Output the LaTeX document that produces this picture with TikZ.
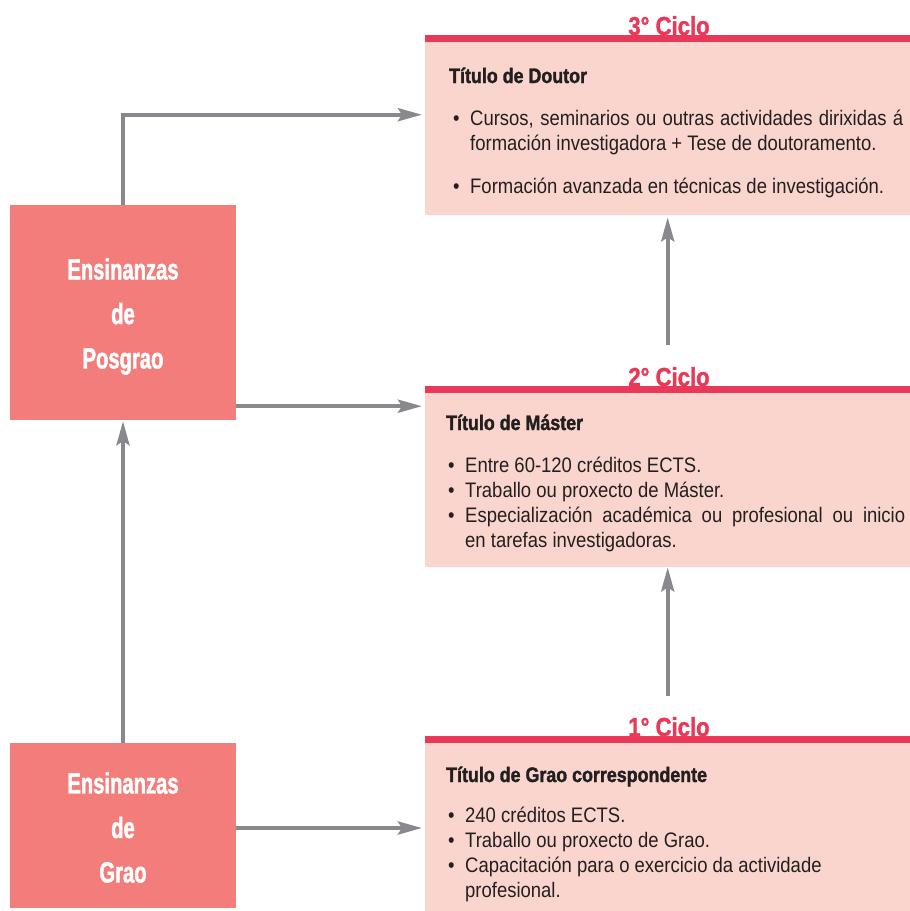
\documentclass[tikz,border=0pt]{standalone}
\usepackage{fontspec}
\usetikzlibrary{arrows.meta,calc}
\setmainfont{Liberation Sans}
\newfontfamily\bodyfont[FakeStretch=0.88]{Liberation Sans}
\newfontfamily\headfont[FakeStretch=0.85,FakeBold=1.5]{Liberation Sans}
\newfontfamily\ciclofont[FakeStretch=0.85,FakeBold=1.5]{Liberation Sans}
\newfontfamily\bigfont[FakeStretch=0.69,FakeBold=1.5]{Liberation Sans}
\definecolor{pinkbox}{HTML}{FAD5CE}
\definecolor{redbar}{HTML}{E83A58}
\definecolor{salmon}{HTML}{F27D7A}
\definecolor{arrowgray}{HTML}{88898D}
\definecolor{txt}{HTML}{231F20}
\newcommand\bitem[1]{\par\noindent\hangindent=17pt\hangafter=1\makebox[17pt][l]{\textbullet}#1}
\newcommand\bodystyle{\bodyfont\fontsize{21}{25}\selectfont\hyphenpenalty=10000\tolerance=9999\parskip=0pt\parindent=0pt}
\tikzset{
  cyclebox/.style={fill=pinkbox, draw=none, inner sep=0pt, anchor=north west},
  redband/.style={fill=redbar, draw=none, inner sep=0pt, minimum height=7pt, minimum width=485pt, anchor=south west},
  ciclo/.style={text=redbar, font=\ciclofont\bfseries\fontsize{26}{30}\selectfont, inner sep=0pt, anchor=base},
  ctitle/.style={text=txt, font=\headfont\bfseries\fontsize{21}{25}\selectfont, inner sep=0pt, anchor=base west},
  cbody/.style={inner sep=0pt, anchor=base west, text=txt},
  leftbox/.style={fill=salmon, draw=none, inner sep=0pt, minimum width=226pt},
  bigtext/.style={text=white, align=center, inner sep=0pt,
    font=\bigfont\bfseries\fontsize{29.3}{44.5}\selectfont},
  arr/.style={draw=arrowgray, line width=4pt, -{Stealth[length=24pt,width=13pt,inset=4pt]}},
}
\begin{document}
\begin{tikzpicture}[x=1pt,y=-1pt]
\useasboundingbox (0,0) rectangle (910,911);
% right boxes
\node[cyclebox, minimum width=485pt, minimum height=173pt] (c3) at (425,42) {};
\node[redband] (bar3) at (c3.north west) {};
\node[ciclo] (l3) at (669,35) {3° Ciclo};
\node[ctitle] (t3) at (449,83) {Título de Doutor};
\node[cbody] (b3) at (453,125) {\parbox[t]{450pt}{\bodystyle
  \bitem{Cursos, seminarios ou outras actividades dirixidas á\linebreak formación investigadora + Tese de doutoramento.}\par\vspace{18pt}
  \bitem{Formación avanzada en técnicas de investigación.}}};

\node[cyclebox, minimum width=485pt, minimum height=174pt] (c2) at (425,393) {};
\node[redband] (bar2) at (c2.north west) {};
\node[ciclo] (l2) at (669,386) {2° Ciclo};
\node[ctitle] (t2) at (446,430) {Título de Máster};
\node[cbody] (b2) at (448,472) {\parbox[t]{457pt}{\bodystyle
  \bitem{Entre 60-120 créditos ECTS.}
  \bitem{Traballo ou proxecto de Máster.}
  \bitem{Especialización académica ou profesional ou inicio\linebreak en tarefas investigadoras.}}};

\node[cyclebox, minimum width=485pt, minimum height=168pt] (c1) at (425,743) {};
\node[redband] (bar1) at (c1.north west) {};
\node[ciclo] (l1) at (669,736) {1° Ciclo};
\node[ctitle] (t1) at (446,782) {Título de Grao correspondente};
\node[cbody] (b1) at (448,822) {\parbox[t]{457pt}{\bodystyle
  \bitem{240 créditos ECTS.}
  \bitem{Traballo ou proxecto de Grao.}
  \bitem{Capacitación para o exercicio da actividade\newline profesional.}}};

% left boxes
\node[leftbox, minimum height=215pt] (pos) at (123,312.5) {};
\node[bigtext] (postext) at ([yshift=-4pt]pos.center) {Ensinanzas\\de\\Posgrao};
\node[leftbox, minimum height=165pt] (grao) at (123,825.5) {};
\node[bigtext] (graotext) at ([yshift=-2pt]grao.center) {Ensinanzas\\de\\Grao};

% connectors
\draw[arr, shorten >=3pt] (pos.north) |- ([yshift=14pt]c3.west);
\draw[arr, shorten >=3pt] ([yshift=14pt]pos.south east) -- ([yshift=14pt]pos.south east -| c2.west);
\draw[arr, shorten >=3pt] ([yshift=-2.5pt]grao.east) -- ([yshift=-2.5pt]grao.east -| c1.west);
\draw[arr, shorten >=1pt] (grao.north) -- (pos.south);
\draw[arr] ([yshift=40pt]bar1.north -| c2.south) -- (c2.south);
\draw[arr, shorten >=2pt] ([yshift=41pt]bar2.north -| c3.south) -- (c3.south);
\end{tikzpicture}
\end{document}
